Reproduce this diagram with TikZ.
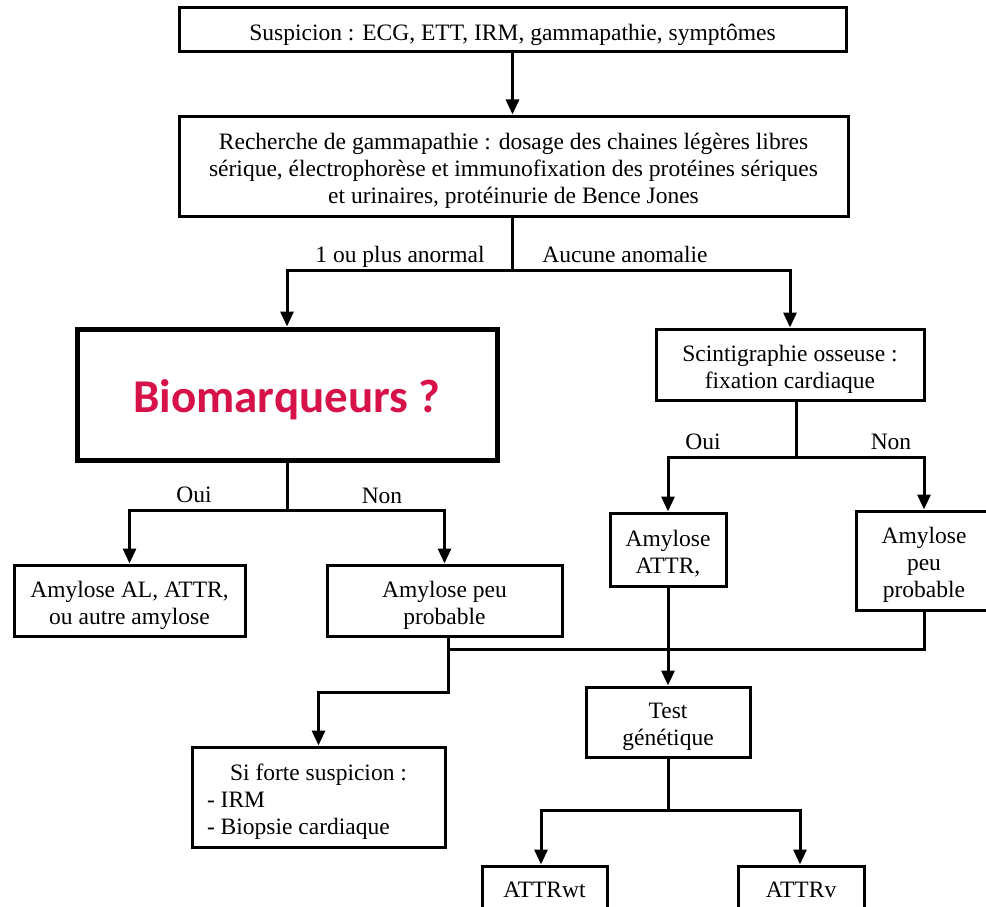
\documentclass[tikz,border=0pt]{standalone}
\usepackage{fontspec}
\setmainfont{Liberation Serif}
\newfontfamily\carlito{Carlito}
\usetikzlibrary{arrows.meta}
\definecolor{biored}{RGB}{214,18,72}
\newcommand{\boxtext}[2][c]{\raisebox{0pt}[\dimexpr\height+10pt\relax][\depth]{\begin{tabular}{@{}#1@{}}#2\end{tabular}}}
\tikzset{
  box/.style={draw, line width=3pt, align=center, inner sep=0pt, font=\fontsize{23.5}{27}\selectfont},
  conn/.style={line width=3pt},
  arr/.style={conn, -{Triangle[width=13pt,length=15pt]}},
  lbl/.style={font=\fontsize{23.5}{27}\selectfont, anchor=base, inner sep=0pt},
}
\begin{document}
\begin{tikzpicture}[x=1pt,y=-1pt]
\useasboundingbox (0,0) rectangle (986,907);
\fill[white] (0,0) rectangle (986,907);

\node[box, minimum width=667pt, minimum height=44pt] (s) at (512.5,30) {\boxtext{Suspicion : ECG, ETT, IRM, gammapathie, symptômes}};
\node[box, minimum width=669pt, minimum height=100pt] (r) at (513.5,166) {\boxtext{Recherche de gammapathie : dosage des chaines légères libres\\sérique, électrophorèse et immunofixation des protéines sériques\\et urinaires, protéinurie de Bence Jones}};
\node[box, line width=5pt, minimum width=420pt, minimum height=131pt, text height=35pt, text depth=0pt, font=\carlito\bfseries\fontsize{47}{50}\selectfont, text=biored] (b) at (287,394.5) {Biomarqueurs ?};
\node[box, minimum width=268pt, minimum height=71pt] (sc) at (790,364.5) {\boxtext{Scintigraphie osseuse :\\fixation cardiaque}};
\node[box, minimum width=231pt, minimum height=71pt] (al) at (129.5,600.5) {\boxtext{Amylose AL, ATTR,\\ou autre amylose}};
\node[box, minimum width=235pt, minimum height=71pt] (pl) at (444.5,600.5) {\boxtext{Amylose peu\\probable}};
\node[box, minimum width=116pt, minimum height=73pt] (at) at (668,549.5) {\boxtext{Amylose\\ATTR,}};
\node[box, minimum width=136pt, minimum height=99pt] (pr) at (924,560.5) {\boxtext{Amylose\\peu\\probable}};
\node[box, minimum width=164pt, minimum height=70pt] (tg) at (668,722) {\boxtext{Test\\génétique}};
\node[box, minimum width=253pt, minimum height=100pt] (si) at (318.5,797) {\boxtext[l]{\makebox[223pt]{Si forte suspicion :}\\- IRM\\- Biopsie cardiaque}};
\node[box, minimum width=125pt, minimum height=47pt] (wt) at (544.5,889.5) {ATTRwt};
\node[box, minimum width=126pt, minimum height=47pt] (v) at (801,889.5) {ATTRv};

% top
\draw[arr] (s.south) -- (s.south |- r.north);
\coordinate (j1) at (512,270);
\draw[conn] (r.south -| j1) -- (j1);
\draw[arr] (j1) -| (b.north);
\draw[arr] (j1) -| (sc.north);
\node[lbl] (l1) at (400,262) {1 ou plus anormal};
\node[lbl] (l2) at (625,262) {Aucune anomalie};

% biomarqueurs
\coordinate (j2) at (287,510);
\draw[conn] (b.south) -- (j2);
\draw[arr] (j2) -| (al.north);
\draw[arr] (j2) -| (pl.north);
\node[lbl] (l3) at (194,502) {Oui};
\node[lbl] (l4) at (382,503) {Non};

% scintigraphie
\coordinate (j3) at (796,457);
\draw[conn] (sc.south -| j3) -- (j3);
\draw[arr] (j3) -| (at.north);
\draw[arr] (j3) -| (pr.north);
\node[lbl] (l5) at (703,449) {Oui};
\node[lbl] (l6) at (891,449) {Non};

% merge
\coordinate (k1) at (448,649);
\coordinate (k3) at (448,692);
\draw[conn] (pl.south -| k1) -- (k1);
\draw[arr] (pr.south) |- (k1) -- (k3) -| (si.north);
\draw[arr] (at.south) -- (tg.north);

% genetic test
\coordinate (j4) at (668,810);
\coordinate (j5) at (541,810);
\coordinate (j6) at (800,810);
\draw[conn] (tg.south) -- (j4);
\draw[arr] (j4) -| (j5 |- wt.north);
\draw[arr] (j4) -| (j6 |- v.north);
\end{tikzpicture}
\end{document}
